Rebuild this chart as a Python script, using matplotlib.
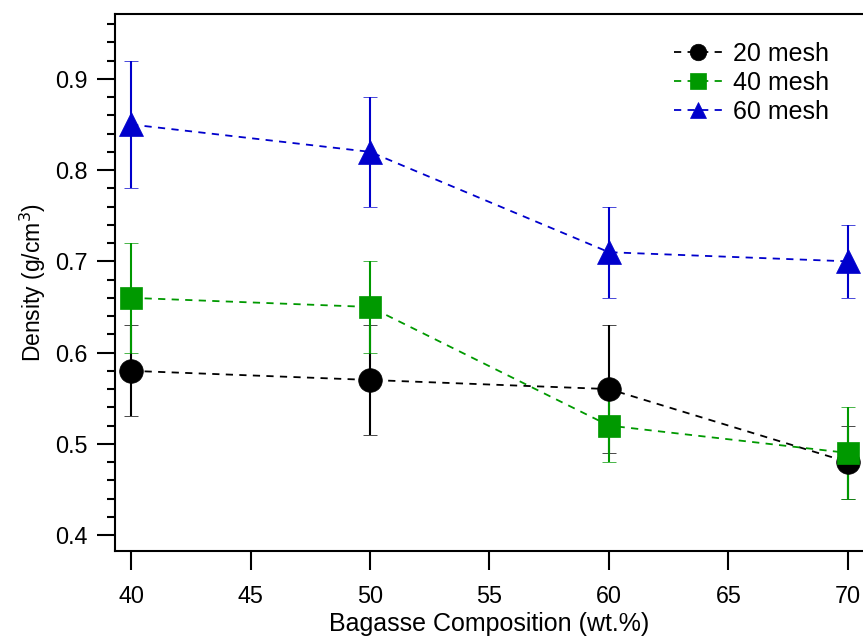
"""
Density vs bagasse composition for three mesh sizes.
Output: out.png
"""

import matplotlib.pyplot as plt
from matplotlib.ticker import MultipleLocator

plt.rcParams["font.family"] = ["Liberation Sans", "DejaVu Sans"]

composition = [40, 50, 60, 70]

density_20 = [0.58, 0.57, 0.56, 0.48]
err_20 = [0.05, 0.06, 0.07, 0.04]

density_40 = [0.66, 0.65, 0.52, 0.49]
err_40 = [0.06, 0.05, 0.04, 0.05]

density_60 = [0.85, 0.82, 0.71, 0.70]
err_60 = [0.07, 0.06, 0.05, 0.04]

series = [
    ("20 mesh", density_20, err_20, "#000000", "o", 17),
    ("40 mesh", density_40, err_40, "#009900", "s", 16),
    ("60 mesh", density_60, err_60, "#0000cc", "^", 17),
]


def plot():
    fig = plt.figure(figsize=(8.63, 6.4), dpi=100)
    ax = fig.add_axes([0.1333, 0.139, 0.8667, 0.839])

    handles = []
    for label, y, err, color, marker, ms in series:
        c = ax.errorbar(composition, y, yerr=err, color=color, ecolor=color,
                        elinewidth=1.5, capsize=5, capthick=1.5,
                        linestyle=(0, (4, 3.5)), linewidth=1.3,
                        marker=marker, markersize=ms,
                        markeredgecolor=color, markeredgewidth=0.5,
                        label=label, clip_on=False)
        handles.append(c[0])

    ax.set_xlim(39.33, 70.63)
    ax.set_ylim(0.3825, 0.971)

    ax.xaxis.set_major_locator(MultipleLocator(5))
    ax.yaxis.set_major_locator(MultipleLocator(0.1))
    ax.yaxis.set_minor_locator(MultipleLocator(0.02))
    ax.yaxis.set_major_formatter(plt.FormatStrFormatter("%.1f"))

    ax.tick_params(axis="x", which="major", direction="out", length=14,
                   width=1.5, labelsize=16.8, pad=10.5)
    ax.tick_params(axis="y", which="major", direction="out", length=13,
                   width=1.5, labelsize=16.8, pad=7)
    ax.tick_params(axis="y", which="minor", direction="out", length=6,
                   width=1.5)

    for side in ["left", "top", "bottom"]:
        ax.spines[side].set_linewidth(1.5)
    ax.spines["right"].set_visible(False)

    ax.set_xlabel("Bagasse Composition (wt.%)", fontsize=18, labelpad=3)
    ax.set_ylabel("Density (g/cm$^3$)", fontsize=16.5, labelpad=5)

    ax.legend(handles=handles, labels=[s[0] for s in series],
              loc="upper right", bbox_to_anchor=(0.985, 0.99), frameon=False,
              fontsize=18, markerscale=0.7, handlelength=1.9,
              handletextpad=0.45, labelspacing=0.2)

    fig.savefig("out.png", dpi=100)


if __name__ == "__main__":
    plot()
